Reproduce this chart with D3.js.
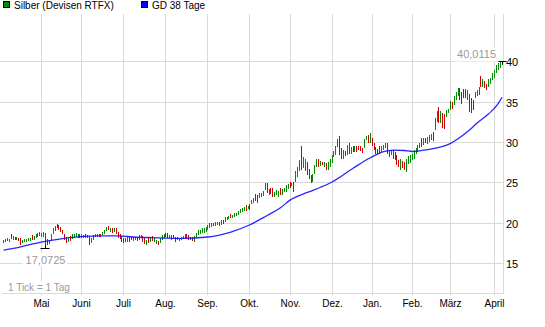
<!DOCTYPE html>
<html>
<head>
<meta charset="utf-8">
<script src="https://cdn.jsdelivr.net/npm/d3@7"></script>
<style>
  html, body { margin: 0; padding: 0; background: #fff; }
  svg { display: block; }
  text { font-family: "Liberation Sans", Arial, sans-serif; }
</style>
</head>
<body>
<svg id="chart" width="545" height="327"></svg>
<script>
// ---------- data ----------
const seriesNames = ["Silber (Devisen RTFX)", "GD 38 Tage"];
const monthLabels = ["Mai","Juni","Juli","Aug.","Sep.","Okt.","Nov.","Dez.","Jan.","Feb.","März","April"];
const monthStartIdx = [20,41,63,85,107,129,150,172,193,214,234,257];
const yTickValues = [15,20,25,30,35,40];

// daily highs / lows, one per trading day
const highs = [
17.95,18.05,18.10,18.05,18.60,18.35,18.30,18.25,18.15,18.10,
17.95,18.00,18.05,18.10,18.20,18.50,18.45,18.70,18.80,18.85,
18.80,18.85,18.80,18.00,17.95,18.60,19.35,19.70,19.92,19.80,
19.50,19.15,18.60,18.30,18.20,18.40,18.60,18.70,18.75,18.70,
18.65,18.60,18.55,18.60,18.50,18.35,18.20,18.55,18.65,18.70,
18.65,18.70,18.95,19.20,19.55,19.65,19.45,19.35,19.45,19.40,
18.90,18.60,18.40,18.20,18.20,18.30,18.25,18.30,18.25,18.30,
18.30,18.51,18.51,18.39,18.10,17.89,18.10,18.30,18.39,18.10,
17.89,17.81,18.10,18.51,18.63,18.72,18.80,18.51,18.51,18.51,
18.30,18.30,18.18,18.32,18.45,18.63,18.63,18.50,18.30,18.22,
18.39,18.80,19.13,19.21,19.34,19.34,19.54,19.75,19.96,20.04,
20.04,20.16,20.16,20.16,20.37,20.37,20.70,20.78,20.87,21.07,
20.99,21.20,21.28,21.53,21.69,21.82,22.02,22.23,22.11,22.35,
22.85,23.06,23.59,23.47,23.68,23.76,24.00,24.92,24.92,24.17,
24.40,24.30,23.90,24.10,24.00,24.40,24.20,24.40,24.70,24.80,
25.10,25.00,25.10,26.40,27.00,27.80,29.50,28.20,27.90,27.60,
26.70,26.00,26.10,27.20,27.90,27.90,27.70,27.60,27.60,27.40,
27.60,27.90,28.40,29.00,29.50,30.40,30.80,29.30,29.10,29.00,
29.70,29.96,29.40,29.50,29.50,29.50,29.55,29.50,29.30,30.40,
30.80,30.90,31.20,30.50,29.96,29.46,29.13,29.50,29.55,29.67,
29.88,29.88,29.05,29.05,29.05,28.84,28.43,27.80,28.00,27.70,
27.60,28.00,28.30,28.40,28.60,29.05,29.26,29.67,29.90,30.58,
30.50,30.50,30.70,30.90,31.00,31.30,33.00,33.90,34.40,33.90,
33.70,33.50,34.00,34.20,35.10,35.00,35.70,36.20,36.80,36.70,
36.30,36.60,36.60,36.50,35.95,35.46,35.25,36.28,36.50,36.90,
38.27,37.90,37.60,37.30,37.85,37.94,38.56,38.97,39.59,39.80,
39.95,40.0115
];
const lows = [
17.55,17.65,17.75,17.70,18.00,17.90,17.85,17.95,17.80,17.35,
17.55,17.65,17.70,17.75,17.80,17.90,17.95,18.15,18.25,18.35,
18.30,18.30,17.0725,17.25,17.40,17.95,18.60,19.00,19.35,19.15,
18.90,18.60,17.90,17.50,17.60,17.75,18.00,18.20,18.25,18.20,
18.15,18.10,18.20,18.15,18.10,17.30,17.55,17.95,18.25,18.30,
18.25,18.30,18.50,18.70,19.00,19.10,18.90,18.80,18.95,18.60,
18.20,18.00,17.70,17.50,17.60,17.70,17.65,17.89,17.80,17.85,
17.81,17.89,18.10,17.68,17.39,17.27,17.56,17.68,17.81,17.68,
17.39,17.27,17.48,17.89,18.10,18.30,18.10,18.10,17.89,18.10,
17.68,17.89,17.81,17.90,18.00,18.10,18.00,17.95,17.89,17.77,
17.68,18.25,18.51,18.63,18.80,18.72,18.92,19.13,19.34,19.54,
19.63,19.63,19.75,19.63,19.75,19.87,20.16,20.37,20.45,20.58,
20.58,20.70,20.87,20.99,21.28,21.40,21.53,21.53,21.69,21.61,
22.35,22.52,22.77,22.44,23.06,23.18,23.40,24.09,23.68,23.47,
23.60,23.30,23.30,23.50,23.20,23.50,23.50,23.80,23.90,24.20,
24.40,24.60,23.90,25.10,25.70,26.40,26.60,26.80,26.40,26.00,
25.50,25.00,25.10,26.10,27.00,27.00,27.10,27.20,27.00,26.60,
26.60,27.00,27.40,28.20,28.40,29.40,28.40,28.00,28.00,28.30,
28.40,28.60,28.55,28.80,28.80,28.80,29.05,29.00,28.70,29.30,
30.30,29.96,29.90,29.60,29.05,28.55,28.55,28.60,28.80,29.05,
29.26,28.60,28.20,28.43,28.00,27.80,27.19,26.98,26.57,26.78,
26.57,26.36,27.30,27.50,27.80,28.00,28.60,28.84,29.26,29.46,
29.67,29.90,29.75,30.00,30.30,30.20,31.50,32.56,32.35,32.35,
31.80,31.65,33.20,33.60,34.00,34.20,34.70,35.20,35.70,35.25,
34.80,35.50,35.50,35.25,33.80,33.60,34.00,35.50,35.70,35.87,
36.90,36.90,36.70,36.50,36.90,37.30,37.70,37.94,38.56,38.97,
39.26,39.59
];
// bar direction: G = up (green), R = down (red)
const barDirs = (
"GGGGRGRGRR" + "GGGGGRGGGG" + "GGRRGGGGRR" + "RRRRGRGGGG" +
"RGGRGRGGGG" + "GRGGGRGRGR" + "RRRRGGRRGG" + "RGGRRGRGRG" +
"GRGGGRRGGR" + "RGGGGGRRRR" + "GGGGGGGGGG" + "RGGRGRGGGR" +
"GGGGGGGRGR" + "GGRRGGGGRG" + "RRGGGRGGGG" + "RGRGGGRGGR" +
"RRGGGRGRGR" + "GGGGGGRRGR" + "GRGRGRRRRG" + "GRGRRRRRGG" +
"GRRGRRRRGR" + "RGGGGGGGGR" + "GRGGGRGGRG" + "RRGGGRGGGR" +
"RRRGRRRGGG" + "RGRRGGGGGG" + "GG").split("");

// 38-day moving average, read at points along the blue line
const maIdx = [0, 9, 19, 30, 42, 51, 60, 68, 78, 93, 107, 119, 129, 138, 145, 150, 159, 166, 172, 183, 192, 199, 204, 210, 214, 220, 227, 233, 238, 243, 248, 254, 259, 261];
const maVal = [16.65, 17.06, 17.62, 18.05, 18.35, 18.42, 18.42, 18.28, 18.20, 18.12, 18.28, 18.90, 19.80, 20.95, 21.90, 22.85, 23.80, 24.45, 25.10, 26.80, 28.10, 28.85, 29.05, 29.00, 28.88, 29.05, 29.34, 29.75, 30.45, 31.35, 32.40, 33.55, 34.80, 35.60];

// ---------- chart ----------
const svg = d3.select("#chart");
const W = 545, H = 327;
const plot = { left: 0, right: 503.5, top: 14, bottom: 293.5 };
const green = "#008c00", red = "#d20000", grid = "#d9d9d9";

const N = highs.length;
const x = d3.scaleLinear().domain([0, N - 1]).range([3.6, 502.0]);
const y = d3.scaleLinear().domain([11.34, 45.92]).range([293, 14]);
const crisp = v => Math.floor(v) + 0.5;

// white background
svg.append("rect").attr("width", W).attr("height", H).attr("fill", "#fff");

// horizontal gridlines
svg.append("g").selectAll("line").data(yTickValues).join("line")
  .attr("x1", plot.left).attr("x2", plot.right)
  .attr("y1", d => crisp(y(d))).attr("y2", d => crisp(y(d)))
  .attr("stroke", grid).attr("stroke-width", 1);

// vertical gridlines (month starts)
svg.append("g").selectAll("line").data(monthStartIdx).join("line")
  .attr("x1", d => crisp(x(d))).attr("x2", d => crisp(x(d)))
  .attr("y1", plot.top).attr("y2", plot.bottom + 2)
  .attr("stroke", grid).attr("stroke-width", 1);

// frame: right and bottom
svg.append("line").attr("x1", plot.right).attr("x2", plot.right)
  .attr("y1", plot.top).attr("y2", plot.bottom).attr("stroke", grid);
svg.append("line").attr("x1", 2).attr("x2", plot.right)
  .attr("y1", plot.bottom).attr("y2", plot.bottom).attr("stroke", grid);

// right axis via d3.axisRight
const yAxis = d3.axisRight(y).tickValues(yTickValues).tickSize(0).tickPadding(0)
  .tickFormat(d3.format("d"));
const gy = svg.append("g").attr("transform", `translate(506,0)`).call(yAxis);
gy.select(".domain").remove();
gy.selectAll("text").attr("font-size", 11).attr("fill", "#000")
  .attr("font-family", "Liberation Sans, Arial, sans-serif")
  .attr("dy", "0.36em").attr("x", 0);

// bottom axis labels
const xAxis = d3.axisBottom(x).tickValues(monthStartIdx).tickSize(0).tickPadding(0)
  .tickFormat((d, i) => monthLabels[i]);
const gx = svg.append("g").call(xAxis);
gx.select(".domain").remove();
gx.selectAll(".tick").attr("transform", d => `translate(${crisp(x(d))},0)`);
gx.selectAll("text").attr("font-size", 10).attr("fill", "#000")
  .attr("font-family", "Liberation Sans, Arial, sans-serif")
  .attr("y", 307).attr("dy", 0);

// high-low bars
const bars = d3.range(N);
svg.append("g").selectAll("rect").data(bars).join("rect")
  .attr("x", i => Math.floor(x(i)))
  .attr("width", 1)
  .attr("y", i => Math.round(y(highs[i])))
  .attr("height", i => Math.max(1, Math.round(y(lows[i])) - Math.round(y(highs[i]))))
  .attr("fill", i => barDirs[i] === "G" ? green : red)
  .attr("shape-rendering", "crispEdges");

// moving average line
const line = d3.line()
  .x((d, i) => x(maIdx[i]))
  .y(d => y(d))
  .curve(d3.curveMonotoneX);
svg.append("path").datum(maVal).attr("d", line)
  .attr("fill", "none").attr("stroke", "#1010ff").attr("stroke-width", 1.3)
  .attr("stroke-opacity", 0.9);

// max / min markers
const maxI = d3.maxIndex(highs), minI = d3.minIndex(lows);
const fmt = v => d3.format(".4f")(v).replace(".", ",");
const mxX = Math.floor(x(maxI)) + 0.5, mxY = Math.round(y(highs[maxI])) - 0.5;
const mnX = Math.floor(x(minI)) + 0.5, mnY = Math.round(y(lows[minI])) + 1.5;

svg.append("rect").attr("x", mxX - 48).attr("y", mxY - 14).attr("width", 42).attr("height", 14).attr("fill", "#fff");
svg.append("text").attr("x", mxX - 6.5).attr("y", mxY - 3.5).attr("text-anchor", "end")
  .attr("font-size", 11).attr("fill", "#9a9a9a").text(fmt(highs[maxI]));
svg.append("line").attr("x1", mxX - 4).attr("x2", mxX + 4).attr("y1", mxY).attr("y2", mxY).attr("stroke", "#000");
svg.append("line").attr("x1", mxX).attr("x2", mxX).attr("y1", mxY).attr("y2", mxY + 3).attr("stroke", "#000");

svg.append("rect").attr("x", mnX - 23).attr("y", mnY + 4).attr("width", 45).attr("height", 14).attr("fill", "#fff");
svg.append("text").attr("x", mnX).attr("y", mnY + 15).attr("text-anchor", "middle")
  .attr("font-size", 11).attr("fill", "#9a9a9a").text(fmt(lows[minI]));
svg.append("line").attr("x1", mnX - 5).attr("x2", mnX + 4).attr("y1", mnY).attr("y2", mnY).attr("stroke", "#000");
svg.append("line").attr("x1", mnX).attr("x2", mnX).attr("y1", mnY).attr("y2", mnY - 3).attr("stroke", "#000");

// tick note
svg.append("rect").attr("x", 6).attr("y", 281).attr("width", 66).attr("height", 12).attr("fill", "#fff");
svg.append("text").attr("x", 8).attr("y", 290.5).attr("font-size", 10).attr("fill", "#9a9a9a").text("1 Tick = 1 Tag");

// legend
const legend = [
  { name: seriesNames[0], color: green, x: 3.5 },
  { name: seriesNames[1], color: "#0000ff", x: 141.5 }
];
const lg = svg.append("g").selectAll("g").data(legend).join("g");
lg.append("rect").attr("x", d => d.x).attr("y", 1.5).attr("width", 6).attr("height", 6)
  .attr("fill", d => d.color).attr("stroke", "#000").attr("stroke-width", 1);
lg.append("text").attr("x", d => d.x + 10.5).attr("y", 9).attr("font-size", 10)
  .attr("fill", "#000").text(d => d.name);
</script>
</body>
</html>
